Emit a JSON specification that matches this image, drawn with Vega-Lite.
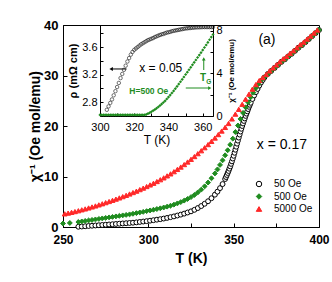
{
"$schema": "https://vega.github.io/schema/vega-lite/v6.json",
"width": 256, "height": 202,
"autosize": {"type": "none"},
"padding": {"left": 63, "top": 25, "right": 13, "bottom": 55},
"config": {
  "view": {"stroke": "black", "strokeWidth": 1},
  "font": "Liberation Sans",
  "axis": {"grid": false, "domainColor": "black", "tickColor": "black", "labelColor": "black", "titleColor": "black", "domainWidth": 1, "tickWidth": 1, "labelFlush": false, "labelOverlap": false},
  "legend": {"labelFont": "Liberation Sans", "labelFontSize": 10, "labelFontWeight": "normal", "labelColor": "black", "orient": "none", "legendX": 191, "legendY": 154, "symbolSize": 30, "rowPadding": 2.5, "labelOffset": 10, "padding": 0, "symbolStrokeWidth": 1}
},
"datasets": {
  "main": [
    {"T":259,"c":0.05,"H":"50 Oe"},{"T":261,"c":0.1,"H":"50 Oe"},{"T":263,"c":0.15,"H":"50 Oe"},{"T":265,"c":0.2,"H":"50 Oe"},{"T":267,"c":0.25,"H":"50 Oe"},{"T":269,"c":0.3,"H":"50 Oe"},{"T":271,"c":0.35,"H":"50 Oe"},{"T":273,"c":0.4,"H":"50 Oe"},{"T":275,"c":0.45,"H":"50 Oe"},{"T":277,"c":0.5,"H":"50 Oe"},{"T":279,"c":0.55,"H":"50 Oe"},{"T":281,"c":0.6,"H":"50 Oe"},{"T":283,"c":0.65,"H":"50 Oe"},{"T":285,"c":0.7,"H":"50 Oe"},{"T":287,"c":0.75,"H":"50 Oe"},{"T":289,"c":0.8,"H":"50 Oe"},{"T":291,"c":0.85,"H":"50 Oe"},{"T":293,"c":0.92,"H":"50 Oe"},{"T":295,"c":1.0,"H":"50 Oe"},{"T":297,"c":1.08,"H":"50 Oe"},{"T":299,"c":1.16,"H":"50 Oe"},{"T":301,"c":1.25,"H":"50 Oe"},{"T":303,"c":1.35,"H":"50 Oe"},{"T":305,"c":1.45,"H":"50 Oe"},{"T":307,"c":1.55,"H":"50 Oe"},{"T":309,"c":1.67,"H":"50 Oe"},{"T":311,"c":1.8,"H":"50 Oe"},{"T":313,"c":1.95,"H":"50 Oe"},{"T":315,"c":2.1,"H":"50 Oe"},{"T":317,"c":2.27,"H":"50 Oe"},{"T":319,"c":2.45,"H":"50 Oe"},{"T":321,"c":2.65,"H":"50 Oe"},{"T":323,"c":2.87,"H":"50 Oe"},{"T":325,"c":3.1,"H":"50 Oe"},{"T":327,"c":3.4,"H":"50 Oe"},{"T":329,"c":3.75,"H":"50 Oe"},{"T":331,"c":4.15,"H":"50 Oe"},{"T":333,"c":4.6,"H":"50 Oe"},{"T":335,"c":5.1,"H":"50 Oe"},{"T":337,"c":5.7,"H":"50 Oe"},{"T":339,"c":6.4,"H":"50 Oe"},{"T":340.5,"c":7.0,"H":"50 Oe"},{"T":342,"c":7.7,"H":"50 Oe"},{"T":343.5,"c":8.5,"H":"50 Oe"},{"T":345,"c":9.5,"H":"50 Oe"},{"T":345.5,"c":9.9,"H":"50 Oe"},{"T":346,"c":10.3,"H":"50 Oe"},{"T":346.5,"c":10.7,"H":"50 Oe"},{"T":347,"c":11.1,"H":"50 Oe"},{"T":347.5,"c":11.55,"H":"50 Oe"},{"T":348,"c":12.0,"H":"50 Oe"},{"T":348.5,"c":12.5,"H":"50 Oe"},{"T":349,"c":13.0,"H":"50 Oe"},{"T":349.5,"c":13.55,"H":"50 Oe"},{"T":350,"c":14.1,"H":"50 Oe"},{"T":350.5,"c":14.7,"H":"50 Oe"},{"T":351,"c":15.3,"H":"50 Oe"},{"T":351.5,"c":15.9,"H":"50 Oe"},{"T":352,"c":16.5,"H":"50 Oe"},{"T":352.5,"c":17.1,"H":"50 Oe"},{"T":353,"c":17.7,"H":"50 Oe"},{"T":353.5,"c":18.3,"H":"50 Oe"},{"T":354,"c":18.9,"H":"50 Oe"},{"T":354.5,"c":19.45,"H":"50 Oe"},{"T":355,"c":20.0,"H":"50 Oe"},{"T":355.5,"c":20.5,"H":"50 Oe"},{"T":356,"c":21.0,"H":"50 Oe"},{"T":356.5,"c":21.5,"H":"50 Oe"},{"T":357,"c":22.0,"H":"50 Oe"},{"T":357.5,"c":22.45,"H":"50 Oe"},{"T":358,"c":22.9,"H":"50 Oe"},{"T":358.5,"c":23.35,"H":"50 Oe"},{"T":359,"c":23.8,"H":"50 Oe"},{"T":359.5,"c":24.2,"H":"50 Oe"},{"T":360,"c":24.6,"H":"50 Oe"},{"T":361,"c":25.35,"H":"50 Oe"},{"T":362,"c":26.05,"H":"50 Oe"},{"T":363,"c":26.7,"H":"50 Oe"},{"T":364,"c":27.35,"H":"50 Oe"},{"T":365,"c":28.0,"H":"50 Oe"},{"T":366,"c":28.6,"H":"50 Oe"},{"T":367,"c":29.1,"H":"50 Oe"},{"T":368,"c":29.6,"H":"50 Oe"},{"T":370,"c":30.3,"H":"50 Oe"},{"T":372,"c":30.9,"H":"50 Oe"},{"T":374,"c":31.5,"H":"50 Oe"},{"T":376,"c":32.1,"H":"50 Oe"},{"T":378,"c":32.7,"H":"50 Oe"},{"T":380,"c":33.2,"H":"50 Oe"},{"T":382,"c":33.8,"H":"50 Oe"},{"T":384,"c":34.3,"H":"50 Oe"},{"T":386,"c":34.9,"H":"50 Oe"},{"T":388,"c":35.5,"H":"50 Oe"},{"T":390,"c":36.0,"H":"50 Oe"},{"T":392,"c":36.6,"H":"50 Oe"},{"T":394,"c":37.2,"H":"50 Oe"},{"T":396,"c":37.8,"H":"50 Oe"},{"T":398,"c":38.4,"H":"50 Oe"},{"T":400,"c":39.0,"H":"50 Oe"},
    {"T":250,"c":0.7,"H":"500 Oe"},{"T":254,"c":0.8,"H":"500 Oe"},{"T":259,"c":1.0,"H":"500 Oe"},{"T":261,"c":1.1,"H":"500 Oe"},{"T":263,"c":1.2,"H":"500 Oe"},{"T":265,"c":1.3,"H":"500 Oe"},{"T":267,"c":1.4,"H":"500 Oe"},{"T":269,"c":1.5,"H":"500 Oe"},{"T":271,"c":1.6,"H":"500 Oe"},{"T":273,"c":1.7,"H":"500 Oe"},{"T":275,"c":1.8,"H":"500 Oe"},{"T":277,"c":1.9,"H":"500 Oe"},{"T":279,"c":2.0,"H":"500 Oe"},{"T":281,"c":2.1,"H":"500 Oe"},{"T":283,"c":2.2,"H":"500 Oe"},{"T":285,"c":2.3,"H":"500 Oe"},{"T":287,"c":2.4,"H":"500 Oe"},{"T":289,"c":2.5,"H":"500 Oe"},{"T":291,"c":2.62,"H":"500 Oe"},{"T":293,"c":2.75,"H":"500 Oe"},{"T":295,"c":2.88,"H":"500 Oe"},{"T":297,"c":3.0,"H":"500 Oe"},{"T":299,"c":3.14,"H":"500 Oe"},{"T":301,"c":3.28,"H":"500 Oe"},{"T":303,"c":3.42,"H":"500 Oe"},{"T":305,"c":3.56,"H":"500 Oe"},{"T":307,"c":3.7,"H":"500 Oe"},{"T":309,"c":3.86,"H":"500 Oe"},{"T":311,"c":4.03,"H":"500 Oe"},{"T":313,"c":4.22,"H":"500 Oe"},{"T":315,"c":4.43,"H":"500 Oe"},{"T":317,"c":4.67,"H":"500 Oe"},{"T":319,"c":4.93,"H":"500 Oe"},{"T":321,"c":5.22,"H":"500 Oe"},{"T":323,"c":5.55,"H":"500 Oe"},{"T":325,"c":5.92,"H":"500 Oe"},{"T":327,"c":6.35,"H":"500 Oe"},{"T":329,"c":6.85,"H":"500 Oe"},{"T":331,"c":7.4,"H":"500 Oe"},{"T":333,"c":8.05,"H":"500 Oe"},{"T":335,"c":8.8,"H":"500 Oe"},{"T":337,"c":9.65,"H":"500 Oe"},{"T":339,"c":10.6,"H":"500 Oe"},{"T":340.5,"c":11.4,"H":"500 Oe"},{"T":342,"c":12.3,"H":"500 Oe"},{"T":343.5,"c":13.2,"H":"500 Oe"},{"T":345,"c":14.2,"H":"500 Oe"},{"T":346.5,"c":15.2,"H":"500 Oe"},{"T":348,"c":16.3,"H":"500 Oe"},{"T":349.5,"c":17.5,"H":"500 Oe"},{"T":351,"c":18.8,"H":"500 Oe"},{"T":352.5,"c":20.1,"H":"500 Oe"},{"T":354,"c":21.4,"H":"500 Oe"},{"T":355.5,"c":22.6,"H":"500 Oe"},{"T":357,"c":23.7,"H":"500 Oe"},{"T":358.5,"c":24.7,"H":"500 Oe"},{"T":360,"c":25.7,"H":"500 Oe"},{"T":361.5,"c":26.6,"H":"500 Oe"},{"T":363,"c":27.5,"H":"500 Oe"},{"T":364.5,"c":28.3,"H":"500 Oe"},{"T":366,"c":29.0,"H":"500 Oe"},{"T":368,"c":29.65,"H":"500 Oe"},{"T":370,"c":30.3,"H":"500 Oe"},{"T":372,"c":30.9,"H":"500 Oe"},{"T":374,"c":31.5,"H":"500 Oe"},{"T":376,"c":32.1,"H":"500 Oe"},{"T":378,"c":32.7,"H":"500 Oe"},{"T":380,"c":33.2,"H":"500 Oe"},{"T":382,"c":33.8,"H":"500 Oe"},{"T":384,"c":34.3,"H":"500 Oe"},{"T":386,"c":34.9,"H":"500 Oe"},{"T":388,"c":35.5,"H":"500 Oe"},{"T":390,"c":36.0,"H":"500 Oe"},{"T":392,"c":36.6,"H":"500 Oe"},{"T":394,"c":37.2,"H":"500 Oe"},{"T":396,"c":37.8,"H":"500 Oe"},{"T":398,"c":38.4,"H":"500 Oe"},{"T":400,"c":39.0,"H":"500 Oe"},
    {"T":251,"c":2.6,"H":"5000 Oe"},{"T":253,"c":2.75,"H":"5000 Oe"},{"T":255,"c":2.9,"H":"5000 Oe"},{"T":257,"c":3.05,"H":"5000 Oe"},{"T":259,"c":3.22,"H":"5000 Oe"},{"T":261,"c":3.4,"H":"5000 Oe"},{"T":263,"c":3.58,"H":"5000 Oe"},{"T":265,"c":3.77,"H":"5000 Oe"},{"T":267,"c":3.97,"H":"5000 Oe"},{"T":269,"c":4.17,"H":"5000 Oe"},{"T":271,"c":4.38,"H":"5000 Oe"},{"T":273,"c":4.6,"H":"5000 Oe"},{"T":275,"c":4.82,"H":"5000 Oe"},{"T":277,"c":5.05,"H":"5000 Oe"},{"T":279,"c":5.28,"H":"5000 Oe"},{"T":281,"c":5.52,"H":"5000 Oe"},{"T":283,"c":5.76,"H":"5000 Oe"},{"T":285,"c":6.01,"H":"5000 Oe"},{"T":287,"c":6.27,"H":"5000 Oe"},{"T":289,"c":6.54,"H":"5000 Oe"},{"T":291,"c":6.82,"H":"5000 Oe"},{"T":293,"c":7.1,"H":"5000 Oe"},{"T":295,"c":7.4,"H":"5000 Oe"},{"T":297,"c":7.7,"H":"5000 Oe"},{"T":299,"c":8.01,"H":"5000 Oe"},{"T":301,"c":8.33,"H":"5000 Oe"},{"T":303,"c":8.66,"H":"5000 Oe"},{"T":305,"c":9.0,"H":"5000 Oe"},{"T":307,"c":9.36,"H":"5000 Oe"},{"T":309,"c":9.73,"H":"5000 Oe"},{"T":311,"c":10.12,"H":"5000 Oe"},{"T":313,"c":10.52,"H":"5000 Oe"},{"T":315,"c":10.95,"H":"5000 Oe"},{"T":317,"c":11.4,"H":"5000 Oe"},{"T":319,"c":11.87,"H":"5000 Oe"},{"T":321,"c":12.36,"H":"5000 Oe"},{"T":323,"c":12.87,"H":"5000 Oe"},{"T":325,"c":13.4,"H":"5000 Oe"},{"T":327,"c":13.95,"H":"5000 Oe"},{"T":329,"c":14.52,"H":"5000 Oe"},{"T":331,"c":15.1,"H":"5000 Oe"},{"T":333,"c":15.7,"H":"5000 Oe"},{"T":335,"c":16.32,"H":"5000 Oe"},{"T":337,"c":16.96,"H":"5000 Oe"},{"T":339,"c":17.62,"H":"5000 Oe"},{"T":341,"c":18.3,"H":"5000 Oe"},{"T":343,"c":19.0,"H":"5000 Oe"},{"T":345,"c":19.72,"H":"5000 Oe"},{"T":347,"c":20.5,"H":"5000 Oe"},{"T":349,"c":21.4,"H":"5000 Oe"},{"T":351,"c":22.35,"H":"5000 Oe"},{"T":353,"c":23.3,"H":"5000 Oe"},{"T":355,"c":24.3,"H":"5000 Oe"},{"T":357,"c":25.3,"H":"5000 Oe"},{"T":359,"c":26.3,"H":"5000 Oe"},{"T":361,"c":27.3,"H":"5000 Oe"},{"T":363,"c":28.2,"H":"5000 Oe"},{"T":365,"c":29.0,"H":"5000 Oe"},{"T":367,"c":29.6,"H":"5000 Oe"},{"T":369,"c":30.2,"H":"5000 Oe"},{"T":371,"c":30.9,"H":"5000 Oe"},{"T":373,"c":31.5,"H":"5000 Oe"},{"T":375,"c":32.1,"H":"5000 Oe"},{"T":377,"c":32.7,"H":"5000 Oe"},{"T":379,"c":33.3,"H":"5000 Oe"},{"T":381,"c":33.8,"H":"5000 Oe"},{"T":383,"c":34.4,"H":"5000 Oe"},{"T":385,"c":34.9,"H":"5000 Oe"},{"T":387,"c":35.5,"H":"5000 Oe"},{"T":389,"c":36.1,"H":"5000 Oe"},{"T":391,"c":36.6,"H":"5000 Oe"},{"T":393,"c":37.2,"H":"5000 Oe"},{"T":395,"c":37.8,"H":"5000 Oe"},{"T":397,"c":38.4,"H":"5000 Oe"},{"T":399,"c":39.0,"H":"5000 Oe"}
  ],
  "rho": [
    {"T":304,"rho":2.69},{"T":305,"rho":2.74},{"T":306,"rho":2.79},{"T":307,"rho":2.84},{"T":308,"rho":2.9},{"T":309,"rho":2.96},{"T":310,"rho":3.02},{"T":311,"rho":3.08},{"T":312,"rho":3.15},{"T":313,"rho":3.21},{"T":314,"rho":3.27},{"T":315,"rho":3.33},{"T":316,"rho":3.39},{"T":317,"rho":3.44},{"T":318,"rho":3.49},{"T":319,"rho":3.53},{"T":320,"rho":3.56},{"T":321,"rho":3.58},{"T":322,"rho":3.6},{"T":323,"rho":3.62},{"T":324,"rho":3.64},{"T":325,"rho":3.655},{"T":326,"rho":3.67},{"T":327,"rho":3.685},{"T":328,"rho":3.7},{"T":329,"rho":3.71},{"T":330,"rho":3.72},{"T":331,"rho":3.73},{"T":332,"rho":3.745},{"T":333,"rho":3.755},{"T":334,"rho":3.765},{"T":335,"rho":3.775},{"T":336,"rho":3.785},{"T":337,"rho":3.79},{"T":338,"rho":3.8},{"T":339,"rho":3.81},{"T":340,"rho":3.815},{"T":341,"rho":3.82},{"T":342,"rho":3.83},{"T":343,"rho":3.835},{"T":344,"rho":3.84},{"T":345,"rho":3.845},{"T":346,"rho":3.85},{"T":347,"rho":3.855},{"T":348,"rho":3.86},{"T":349,"rho":3.865},{"T":350,"rho":3.87},{"T":351,"rho":3.872},{"T":352,"rho":3.875},{"T":353,"rho":3.877},{"T":354,"rho":3.88},{"T":355,"rho":3.882},{"T":356,"rho":3.885},{"T":357,"rho":3.886},{"T":358,"rho":3.887},{"T":359,"rho":3.888},{"T":360,"rho":3.89},{"T":361,"rho":3.89},{"T":362,"rho":3.89},{"T":363,"rho":3.89},{"T":364,"rho":3.89},{"T":365,"rho":3.89},{"T":366,"rho":3.89}
  ],
  "chi": [
    {"T":300,"chi":0.1},{"T":301,"chi":0.1},{"T":302,"chi":0.1},{"T":303,"chi":0.1},{"T":304,"chi":0.1},{"T":305,"chi":0.1},{"T":306,"chi":0.1},{"T":307,"chi":0.1},{"T":308,"chi":0.1},{"T":309,"chi":0.1},{"T":310,"chi":0.1},{"T":311,"chi":0.1},{"T":312,"chi":0.1},{"T":313,"chi":0.1},{"T":314,"chi":0.1},{"T":315,"chi":0.1},{"T":316,"chi":0.1},{"T":317,"chi":0.1},{"T":318,"chi":0.1},{"T":319,"chi":0.1},{"T":320,"chi":0.1},{"T":321,"chi":0.1},{"T":322,"chi":0.1},{"T":323,"chi":0.1},{"T":324,"chi":0.1},{"T":325,"chi":0.1},{"T":326,"chi":0.1},{"T":327,"chi":0.15},{"T":328,"chi":0.22},{"T":329,"chi":0.3},{"T":330,"chi":0.4},{"T":331,"chi":0.5},{"T":332,"chi":0.6},{"T":333,"chi":0.72},{"T":334,"chi":0.85},{"T":335,"chi":0.98},{"T":336,"chi":1.12},{"T":337,"chi":1.27},{"T":338,"chi":1.42},{"T":339,"chi":1.6},{"T":340,"chi":1.78},{"T":341,"chi":1.97},{"T":342,"chi":2.16},{"T":343,"chi":2.36},{"T":344,"chi":2.57},{"T":345,"chi":2.78},{"T":346,"chi":3.0},{"T":347,"chi":3.22},{"T":348,"chi":3.44},{"T":349,"chi":3.67},{"T":350,"chi":3.9},{"T":351,"chi":4.12},{"T":352,"chi":4.35},{"T":353,"chi":4.58},{"T":354,"chi":4.81},{"T":355,"chi":5.04},{"T":356,"chi":5.27},{"T":357,"chi":5.5},{"T":358,"chi":5.73},{"T":359,"chi":5.96},{"T":360,"chi":6.2},{"T":361,"chi":6.44},{"T":362,"chi":6.68},{"T":363,"chi":6.92},{"T":364,"chi":7.17},{"T":365,"chi":7.42},{"T":366,"chi":7.67}
  ],
  "arrows": [
    {"T":306.5,"T2":315.5,"rho":3.282,"rho2":3.282,"kind":"rho"},
    {"T":360.6,"T2":360.6,"rho":3.267,"rho2":3.42,"kind":"chi"},
    {"T":350.1,"T2":363.5,"rho":3.006,"rho2":3.006,"kind":"chi"}
  ],
  "heads": [
    {"T":306.5,"rho":3.282,"kind":"rho","dir":"left"},
    {"T":360.6,"rho":3.43,"kind":"chi","dir":"up"},
    {"T":364.1,"rho":3.006,"kind":"chi","dir":"right"}
  ]
},
"layer": [
  {
    "layer": [
      {
        "data": {"name": "main"},
        "mark": {"type": "point", "filled": true, "size": 24, "strokeWidth": 1, "opacity": 1},
        "encoding": {
          "x": {"field": "T", "type": "quantitative",
            "scale": {"domain": [250, 400], "nice": false, "zero": false},
            "axis": {"orient": "bottom", "values": [250, 275, 300, 325, 350, 375, 400],
              "labelExpr": "datum.value % 50 === 0 ? datum.label : ''",
              "tickSize": -4, "labelPadding": 11, "labelFontSize": 12, "labelFontWeight": "bold",
              "title": "T (K)", "titleFontSize": 14, "titleFontWeight": "bold", "titlePadding": 6}},
          "y": {"field": "c", "type": "quantitative",
            "scale": {"domain": [0, 40], "nice": false, "zero": false},
            "axis": {"orient": "left", "values": [0, 5, 10, 15, 20, 25, 30, 35, 40],
              "labelExpr": "datum.value % 10 === 0 ? datum.label : ''",
              "tickSize": -4, "labelPadding": 9, "labelFontSize": 13, "labelFontWeight": "bold",
              "title": "χ⁻¹ (Oe mol/emu)", "titleFontSize": 14, "titleFontWeight": "bold", "titlePadding": 1}},
          "shape": {"field": "H", "type": "nominal",
            "scale": {"domain": ["50 Oe", "500 Oe", "5000 Oe"], "range": ["circle", "diamond", "triangle-up"]},
            "legend": {"title": null}},
          "fill": {"field": "H", "type": "nominal",
            "scale": {"domain": ["50 Oe", "500 Oe", "5000 Oe"], "range": ["#ffffff", "#1f8c1f", "#ff2828"]},
            "legend": {"title": null}},
          "stroke": {"field": "H", "type": "nominal",
            "scale": {"domain": ["50 Oe", "500 Oe", "5000 Oe"], "range": ["#000000", "#1f8c1f", "#ff2828"]},
            "legend": {"title": null}}
        }
      },
      {
        "data": {"values": [{"T": 369.5, "c": 37.0, "label": "(a)"}, {"T": 378.3, "c": 16.2, "label": "x = 0.17"}]},
        "mark": {"type": "text", "fontSize": 14, "color": "black", "align": "center", "baseline": "middle"},
        "encoding": {
          "x": {"field": "T", "type": "quantitative"},
          "y": {"field": "c", "type": "quantitative"},
          "text": {"field": "label"}
        }
      }
    ]
  },
  {
    "layer": [
      {
        "layer": [
          {
            "data": {"name": "rho"},
            "mark": {"type": "point", "filled": false, "size": 12, "strokeWidth": 0.8, "color": "black", "clip": true},
            "encoding": {
              "x": {"field": "T", "type": "quantitative",
                "scale": {"domain": [300, 366], "nice": false, "zero": false, "range": [37, 150]},
                "axis": {"orient": "bottom", "offset": -111, "values": [300, 310, 320, 330, 340, 350, 360],
                  "labelExpr": "datum.value % 20 === 0 ? datum.label : ''",
                  "tickSize": -3, "labelPadding": 8, "labelFontSize": 11,
                  "title": "T (K)", "titleFontSize": 12, "titleFontWeight": "normal", "titlePadding": 2}},
              "y": {"field": "rho", "type": "quantitative",
                "scale": {"domain": [2.6, 3.92], "nice": false, "zero": false, "range": [91, 0]},
                "axis": {"orient": "left", "offset": -37, "values": [2.8, 3.0, 3.2, 3.4, 3.6, 3.8], "format": ".1f",
                  "labelExpr": "round(datum.value * 10) % 4 === 0 ? datum.label : ''",
                  "tickSize": -3, "labelPadding": 6, "labelFontSize": 11,
                  "title": "ρ (mΩ cm)", "titleFontSize": 11, "titleFontWeight": "bold", "titlePadding": 3}}
            }
          },
          {
            "data": {"name": "arrows"},
            "mark": {"type": "rule", "strokeWidth": 1},
            "encoding": {
              "x": {"field": "T", "type": "quantitative"},
              "x2": {"field": "T2"},
              "y": {"field": "rho", "type": "quantitative"},
              "y2": {"field": "rho2"},
              "color": {"field": "kind", "type": "nominal", "scale": {"domain": ["rho", "chi"], "range": ["#000000", "#1f8c1f"]}, "legend": null}
            }
          },
          {
            "data": {"name": "heads"},
            "transform": [{"filter": {"field": "dir", "equal": "left"}}],
            "mark": {"type": "point", "shape": "triangle-left", "filled": true, "size": 16, "opacity": 1, "color": "black"},
            "encoding": {
              "x": {"field": "T", "type": "quantitative"},
              "y": {"field": "rho", "type": "quantitative"}
            }
          },
          {
            "data": {"name": "heads"},
            "transform": [{"filter": {"field": "dir", "equal": "up"}}],
            "mark": {"type": "point", "shape": "triangle-up", "filled": true, "size": 14, "opacity": 1, "color": "#1f8c1f"},
            "encoding": {
              "x": {"field": "T", "type": "quantitative"},
              "y": {"field": "rho", "type": "quantitative"}
            }
          },
          {
            "data": {"name": "heads"},
            "transform": [{"filter": {"field": "dir", "equal": "right"}}],
            "mark": {"type": "point", "shape": "triangle-right", "filled": true, "size": 14, "opacity": 1, "color": "#1f8c1f"},
            "encoding": {
              "x": {"field": "T", "type": "quantitative"},
              "y": {"field": "rho", "type": "quantitative"}
            }
          },
          {
            "data": {"values": [{"T": 335.5, "rho": 3.30, "label": "x = 0.05"}]},
            "mark": {"type": "text", "fontSize": 12, "color": "black", "align": "center", "baseline": "middle"},
            "encoding": {
              "x": {"field": "T", "type": "quantitative"},
              "y": {"field": "rho", "type": "quantitative"},
              "text": {"field": "label"}
            }
          },
          {
            "data": {"values": [{"T": 328.5, "rho": 2.967, "label": "H=500 Oe"}]},
            "mark": {"type": "text", "fontSize": 8.5, "fontWeight": "bold", "color": "#1f8c1f", "align": "center", "baseline": "middle"},
            "encoding": {
              "x": {"field": "T", "type": "quantitative"},
              "y": {"field": "rho", "type": "quantitative"},
              "text": {"field": "label"}
            }
          },
          {
            "data": {"values": [{"T": 360.2, "rho": 3.147, "label": "T"}]},
            "mark": {"type": "text", "fontSize": 10, "fontWeight": "bold", "color": "#1f8c1f", "align": "center", "baseline": "middle"},
            "encoding": {
              "x": {"field": "T", "type": "quantitative"},
              "y": {"field": "rho", "type": "quantitative"},
              "text": {"field": "label"}
            }
          },
          {
            "data": {"values": [{"T": 363.5, "rho": 3.098, "label": "G"}]},
            "mark": {"type": "text", "fontSize": 6.5, "fontWeight": "bold", "color": "#1f8c1f", "align": "center", "baseline": "middle"},
            "encoding": {
              "x": {"field": "T", "type": "quantitative"},
              "y": {"field": "rho", "type": "quantitative"},
              "text": {"field": "label"}
            }
          }
        ]
      },
      {
        "data": {"name": "chi"},
        "mark": {"type": "point", "shape": "diamond", "filled": true, "size": 10, "color": "#1f8c1f", "opacity": 1, "clip": true},
        "encoding": {
          "x": {"field": "T", "type": "quantitative",
            "scale": {"domain": [300, 366], "nice": false, "zero": false, "range": [37, 150]}},
          "y": {"field": "chi", "type": "quantitative",
            "scale": {"domain": [0, 8.56], "nice": false, "zero": false, "range": [91, 0]},
            "axis": {"orient": "right", "offset": -106, "values": [0, 2, 4, 6, 8],
              "labelExpr": "datum.value % 4 === 0 ? datum.label : ''",
              "tickSize": -3, "labelPadding": 6, "labelFontSize": 11,
              "title": "χ⁻¹ (Oe mol/emu)", "titleFontSize": 8, "titleFontWeight": "bold", "titleAngle": -90, "titleBaseline": "top", "titlePadding": 5}}
        }
      }
    ],
    "resolve": {"scale": {"y": "independent"}, "axis": {"y": "independent"}}
  }
],
"resolve": {"scale": {"x": "independent", "y": "independent"}, "axis": {"x": "independent", "y": "independent"}}
}
